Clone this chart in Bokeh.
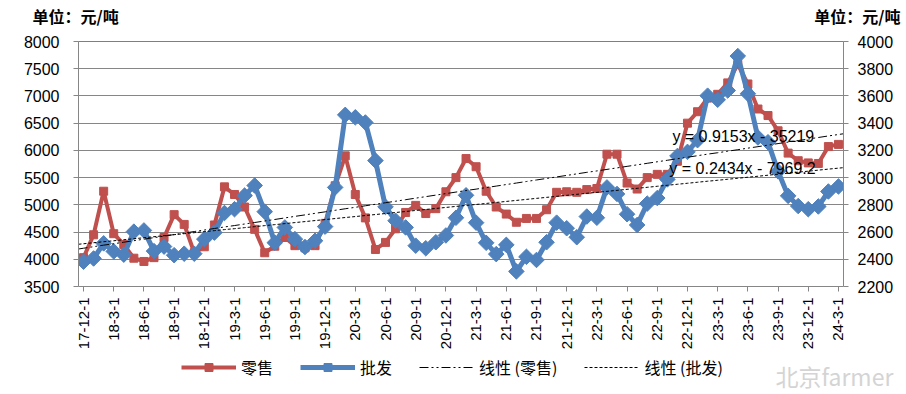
import math
import pandas as pd
from bokeh.plotting import figure
from bokeh.layouts import column
from bokeh.models import (Range1d, LinearAxis, FixedTicker, Span, Label,
                          Legend, LegendItem)
from bokeh.embed import file_html
from bokeh.resources import INLINE

# ---------------- data ----------------
months = pd.date_range("2017-12-01", periods=76, freq="MS")
date_labels = [f"{d.year % 100}-{d.month}-1" for d in months]
tick_idx = list(range(0, 76, 3))

retail = [4030, 4450, 5250, 4470, 4270, 4020, 3960, 4030, 4400, 4820,
          4640, 4120, 4230, 4630, 5330, 5190, 4960, 4550, 4120, 4240,
          4400, 4250, 4210, 4250, 4660, 5350, 5900, 5190, 4760, 4180,
          4310, 4560, 4860, 4990, 4840, 4930, 5240, 5500, 5850, 5700,
          5250, 4960, 4830, 4680, 4750, 4750, 4910, 5230, 5240, 5230,
          5280, 5300, 5930, 5930, 5400, 5290, 5500, 5560, 5560, 5800,
          6500, 6710, 6960, 7030, 7240, 7580, 7220, 6760, 6640, 6360,
          5950, 5810, 5770, 5760, 6070, 6110]

wholesale = [2382, 2406, 2517, 2458, 2434, 2603, 2612, 2460, 2493, 2430,
             2441, 2441, 2548, 2596, 2740, 2768, 2868, 2942, 2750, 2522,
             2634, 2548, 2490, 2536, 2640, 2928, 3461, 3443, 3405, 3125,
             2785, 2683, 2634, 2500, 2481, 2525, 2575, 2705, 2870, 2669,
             2521, 2438, 2506, 2311, 2418, 2395, 2525, 2669, 2628, 2562,
             2714, 2705, 2928, 2880, 2731, 2652, 2809, 2850, 2987, 3159,
             3189, 3275, 3602, 3572, 3640, 3893, 3616, 3295, 3260, 3046,
             2866, 2791, 2768, 2788, 2898, 2935]

retail_slope, retail_icpt = 0.9153, -35219.0
whole_slope, whole_icpt = 0.2434, -7969.2
retail_eq = "y = 0.9153x  - 35219"
whole_eq = "y = 0.2434x  - 7969.2"

series_names = ["零售", "批发", "线性 (零售)", "线性 (批发)"]
unit_text = "单位：元/吨"
watermark = "北京farmer"

left_ticks = list(range(3500, 8001, 500))
right_ticks = list(range(2200, 4001, 200))

# ---------------- derived ----------------
x = list(range(len(retail)))
serial = [(d - pd.Timestamp("1899-12-30")).days for d in months]
step = (serial[-1] - serial[0]) / (len(serial) - 1)
tx = [-0.5] + x + [len(x) - 0.5]
ts = [serial[0] - 0.5 * step] + serial + [serial[-1] + 0.5 * step]
retail_trend = [retail_slope * s + retail_icpt for s in ts]
whole_trend = [whole_slope * s + whole_icpt for s in ts]

RED = "#C0504D"
BLUE = "#4F81BD"
GRAY = "#868686"
LAT = "Liberation Sans"
CJK = "Noto Sans CJK SC"
W = 906
HEAD_H, FOOT_H = 31, 42
MAIN_H = 394 - HEAD_H - FOOT_H

R_DASH = "9 3 2 3 2 3"
W_DASH = "3 2"


def blank(h):
    f = figure(width=W, height=h, x_range=Range1d(0, W), y_range=Range1d(0, h),
               x_axis_type=None, y_axis_type=None, output_backend="svg",
               toolbar_location=None, min_border=0, frame_align=False)
    f.outline_line_color = None
    f.grid.visible = False
    return f


# ---------------- header (unit titles) ----------------
head = blank(HEAD_H)
head.add_layout(Label(x=32, y=HEAD_H - 15, text=unit_text, text_font=CJK,
                      text_font_size="16px", text_font_style="bold",
                      text_color="black", text_baseline="middle"))
head.add_layout(Label(x=900, y=HEAD_H - 15, text=unit_text, text_font=CJK,
                      text_font_size="16px", text_font_style="bold",
                      text_color="black", text_baseline="middle",
                      text_align="right"))

# ---------------- main chart ----------------
p = figure(width=W, height=MAIN_H, x_range=Range1d(-0.5, len(x) - 0.5),
           y_range=Range1d(3500, 8000), output_backend="svg",
           toolbar_location=None, min_border_left=78, min_border_right=63,
           min_border_top=10, min_border_bottom=58, frame_align=False)
p.extra_y_ranges = {"w": Range1d(2200, 4000)}
p.outline_line_color = None

p.xaxis.ticker = FixedTicker(ticks=tick_idx)
p.xaxis.major_label_overrides = {i: date_labels[i] for i in tick_idx}
p.xaxis.major_label_orientation = math.pi / 2
p.xaxis.major_label_text_font = LAT
p.xaxis.major_label_text_font_size = "15px"
p.xaxis.major_label_text_color = "black"
p.xaxis.major_label_standoff = 6
p.xaxis.axis_line_color = GRAY
p.xaxis.major_tick_line_color = GRAY
p.xaxis.major_tick_in = 0
p.xaxis.major_tick_out = 5
p.xaxis.minor_tick_line_color = None

yl = p.yaxis[0]
yl.ticker = FixedTicker(ticks=left_ticks)
yl.major_label_text_font = LAT
yl.major_label_text_font_size = "16px"
yl.major_label_text_color = "black"
yl.major_label_standoff = 14
yl.axis_line_color = GRAY
yl.major_tick_line_color = GRAY
yl.major_tick_in = 0
yl.major_tick_out = 5
yl.minor_tick_line_color = None

yr = LinearAxis(y_range_name="w", ticker=FixedTicker(ticks=right_ticks))
yr.major_label_text_font = LAT
yr.major_label_text_font_size = "16px"
yr.major_label_text_color = "black"
yr.major_label_standoff = 9
yr.axis_line_color = GRAY
yr.major_tick_line_color = GRAY
yr.major_tick_in = 0
yr.major_tick_out = 5
yr.minor_tick_line_color = None
p.add_layout(yr, "right")

p.xgrid.visible = False
p.ygrid.ticker = FixedTicker(ticks=left_ticks)
p.ygrid.grid_line_color = GRAY
p.ygrid.grid_line_width = 1
p.add_layout(Span(location=8000, dimension="width", line_color="black",
                  line_width=1))

p.line(x, retail, line_color=RED, line_width=4)
p.scatter(x, retail, marker="square", size=8, fill_color=RED, line_color=RED)
p.line(x, wholesale, y_range_name="w", line_color=BLUE, line_width=5)
p.scatter(x, wholesale, y_range_name="w", marker="square", angle=math.pi / 4,
          size=11, fill_color=BLUE, line_color=BLUE)
p.line(tx, retail_trend, line_color="black", line_width=1, line_dash=R_DASH)
p.line(tx, whole_trend, y_range_name="w", line_color="black", line_width=1,
       line_dash=W_DASH)

p.add_layout(Label(x=58.5, y=6257, text=retail_eq, text_font=LAT,
                   text_font_size="16px", text_color="black",
                   text_baseline="middle"))
p.add_layout(Label(x=58.2, y=5661, text=whole_eq, text_font=LAT,
                   text_font_size="16px", text_color="black",
                   text_baseline="middle"))

# ---------------- footer (legend + watermark) ----------------
foot = blank(FOOT_H)
ox, oy = [-20, -10], [-20, -20]   # legend-only renderers, kept off-screen
l1 = foot.line(ox, oy, line_color=RED, line_width=4)
m1 = foot.scatter(ox, oy, marker="square", size=8, fill_color=RED,
                  line_color=RED)
l2 = foot.line(ox, oy, line_color=BLUE, line_width=5)
m2 = foot.scatter(ox, oy, marker="square", angle=math.pi / 4, size=9,
                  fill_color=BLUE, line_color=BLUE)
l3 = foot.line(ox, oy, line_color="black", line_width=1, line_dash=R_DASH)
l4 = foot.line(ox, oy, line_color="black", line_width=1, line_dash=W_DASH)
legend = Legend(items=[
    LegendItem(label=series_names[0], renderers=[l1, m1]),
    LegendItem(label=series_names[1], renderers=[l2, m2]),
    LegendItem(label=series_names[2], renderers=[l3]),
    LegendItem(label=series_names[3], renderers=[l4]),
], orientation="horizontal", location=(181, 15), glyph_width=55,
    label_standoff=5, spacing=27, label_text_font=CJK,
    label_text_font_size="16px", label_text_color="black",
    border_line_color=None, background_fill_alpha=0, padding=2, margin=0)
foot.add_layout(legend, "center")
foot.add_layout(Label(x=775, y=FOOT_H - 23, text=watermark, text_font=CJK,
                      text_font_size="23px", text_color="#d4d4d4",
                      text_baseline="middle"))

layout = column(head, p, foot)
open("out.html", "w").write(file_html(layout, INLINE))
